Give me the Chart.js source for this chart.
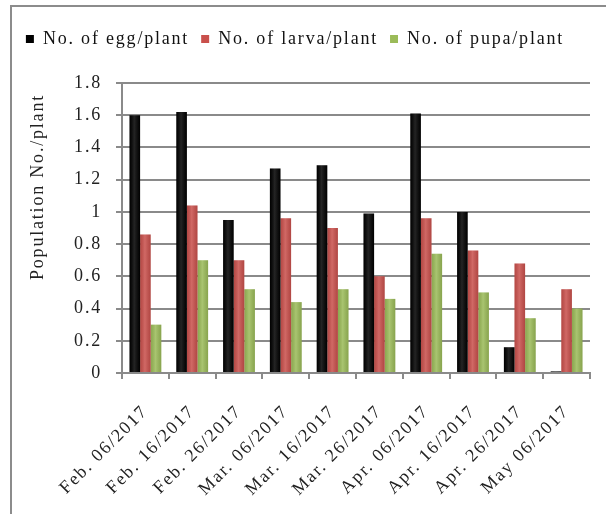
<!DOCTYPE html>
<html>
<head>
<meta charset="utf-8">
<script src="https://cdn.jsdelivr.net/npm/chart.js@4/dist/chart.umd.min.js"></script>
<style>
  html, body { margin: 0; padding: 0; background: #ffffff; }
  #wrap { width: 606px; height: 514px; position: relative; background: #ffffff; }
  canvas { display: block; }
</style>
</head>
<body>
<div id="wrap"><canvas id="c" width="606" height="514"></canvas></div>
<script>
// Sampling dates
const categories = [
  'Feb. 06/2017', 'Feb. 16/2017', 'Feb. 26/2017', 'Mar. 06/2017', 'Mar. 16/2017',
  'Mar. 26/2017', 'Apr. 06/2017', 'Apr. 16/2017', 'Apr. 26/2017', 'May 06/2017'
];

// Mean counts per plant
const eggPerPlant   = [1.60, 1.62, 0.95, 1.27, 1.29, 0.99, 1.61, 1.00, 0.16, 0.01];
const larvaPerPlant = [0.86, 1.04, 0.70, 0.96, 0.90, 0.60, 0.96, 0.76, 0.68, 0.52];
const pupaPerPlant  = [0.30, 0.70, 0.52, 0.44, 0.52, 0.46, 0.74, 0.50, 0.34, 0.40];

const seriesNames = ['No. of egg/plant', 'No. of larva/plant', 'No. of pupa/plant'];
const yAxisTitle = 'Population No./plant';

// Value axis range
const yMin = 0;
const yMax = 1.8;
const yStep = 0.2;

const seriesColors = ['#000000', '#C9504C', '#9BBB59'];
const FONT = "'Liberation Serif', 'Times New Roman', serif";
const TEXT_SPACING = '1.8px';
const GRID_COLOR = '#8a8a8a';

// Wider glyph spacing for all canvas text
const spacingPlugin = {
  id: 'spacing',
  beforeLayout(chart) { chart.ctx.letterSpacing = TEXT_SPACING; },
  beforeDraw(chart) { chart.ctx.letterSpacing = TEXT_SPACING; }
};

// Outer frame, column shading and the rotated value-axis title
const decorPlugin = {
  id: 'decor',
  beforeDraw(chart) {
    const ctx = chart.ctx;
    ctx.save();
    ctx.strokeStyle = '#8c8c8c';
    ctx.lineWidth = 2;
    ctx.strokeRect(11, 6, chart.width + 40, chart.height + 40);
    ctx.restore();
  },
  afterDatasetsDraw(chart) {
    const ctx = chart.ctx;
    ctx.save();
    // soft cylinder-like shading across each column
    chart.data.datasets.forEach((ds, i) => {
      chart.getDatasetMeta(i).data.forEach(bar => {
        const w = bar.width, x0 = bar.x - w / 2;
        const h = bar.base - bar.y;
        if (h <= 0) return;
        const g = ctx.createLinearGradient(x0, 0, x0 + w, 0);
        g.addColorStop(0, 'rgba(0,0,0,0.10)');
        g.addColorStop(0.45, 'rgba(255,255,255,0.14)');
        g.addColorStop(1, 'rgba(0,0,0,0.12)');
        ctx.fillStyle = g;
        ctx.fillRect(x0, bar.y, w, h);
      });
    });
    ctx.restore();
  },
  afterDraw(chart) {
    const ctx = chart.ctx;
    ctx.save();
    ctx.letterSpacing = TEXT_SPACING;
    ctx.font = '18px ' + FONT;
    ctx.fillStyle = '#222222';
    ctx.textAlign = 'center';
    ctx.textBaseline = 'middle';
    ctx.translate(38, 187);
    ctx.rotate(-Math.PI / 2);
    ctx.fillText(yAxisTitle, 0, 0);
    ctx.restore();
  }
};

new Chart(document.getElementById('c'), {
  type: 'bar',
  data: {
    labels: categories,
    datasets: [
      { label: seriesNames[0], data: eggPerPlant,   backgroundColor: seriesColors[0] },
      { label: seriesNames[1], data: larvaPerPlant, backgroundColor: seriesColors[1] },
      { label: seriesNames[2], data: pupaPerPlant,  backgroundColor: seriesColors[2] }
    ]
  },
  options: {
    responsive: false,
    animation: false,
    devicePixelRatio: 1,
    layout: { padding: { left: 0, right: 16, top: 18, bottom: 0 } },
    datasets: {
      bar: { categoryPercentage: 0.68, barPercentage: 1.0, borderWidth: 0 }
    },
    plugins: {
      legend: {
        position: 'top',
        labels: {
          font: { family: FONT, size: 18 },
          color: '#111111',
          boxWidth: 8,
          boxHeight: 8,
          padding: 12
        }
      },
      // empty spacer between legend and plot
      subtitle: {
        display: true,
        text: '',
        weight: 500,
        padding: 0,
        font: { size: 20, lineHeight: 1.25 }
      },
      tooltip: { enabled: false },
      title: { display: false }
    },
    scales: {
      x: {
        offset: true,
        afterFit(scale) { scale.height = 141; },
        grid: { offset: true, drawOnChartArea: false, tickLength: 6, color: GRID_COLOR, lineWidth: 2 },
        border: { display: true, color: GRID_COLOR, width: 2 },
        ticks: { autoSkip: false, maxRotation: 45, minRotation: 45, padding: 22, color: '#222222', font: { family: FONT, size: 18 } }
      },
      y: {
        min: yMin,
        max: yMax,
        afterFit(scale) { scale.width = 122; },
        grid: { drawOnChartArea: true, tickLength: 6, color: GRID_COLOR, lineWidth: 2 },
        border: { display: true, color: GRID_COLOR, width: 2 },
        ticks: {
          stepSize: yStep,
          padding: 14,
          color: '#222222',
          font: { family: FONT, size: 18 },
          callback: v => String(Math.round(v * 10) / 10)
        }
      }
    }
  },
  plugins: [spacingPlugin, decorPlugin]
});
</script>
</body>
</html>
